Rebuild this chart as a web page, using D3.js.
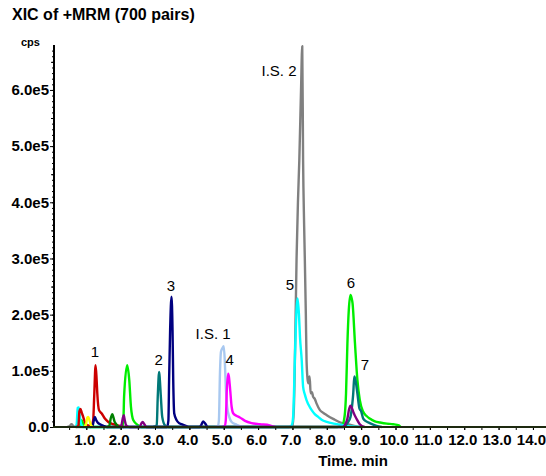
<!DOCTYPE html>
<html lang="en">
<head>
<meta charset="UTF-8">
<title>XIC of +MRM (700 pairs)</title>
<script src="https://cdn.jsdelivr.net/npm/d3@7"></script>
<style>
    body { margin: 0; background: #fff; }
    text { font-family: "Liberation Sans", Arial, Helvetica, sans-serif; }
    .tick text { font-weight: bold; font-size: 15px; fill: #000; }
    .peak_label { font-size: 15px; fill: #000; }
</style>
</head>
<body>
<div id="chart"></div>
<script>
// time in min, intensity in 1e5 cps
var grayTrace = [[0.45,0],[0.52,0.02],[0.57,0.05],[0.62,0.02],[0.7,0],[6.9,0],[7.0,0.02],[7.04,0.3],[7.08,1.5],[7.12,3.0],[7.16,4.0],[7.2,4.75],[7.25,6.0],[7.285,6.78],[7.31,4.75],[7.34,3.6],[7.36,3.0],[7.39,2.0],[7.41,1.2],[7.44,0.85],[7.46,0.78],[7.5,0.9],[7.53,0.6],[7.57,0.62],[7.6,0.54],[7.65,0.5],[7.7,0.42],[7.8,0.3],[7.9,0.25],[8.0,0.21],[8.2,0.14],[8.4,0.08],[8.6,0.05],[8.8,0.02],[9.0,0]];
var limeTrace = [[0.8,0],[0.86,0.12],[0.92,0.04],[0.98,0],[2.0,0],[2.06,0.04],[2.08,0.12],[2.1,0.54],[2.19,1.1],[2.25,0.84],[2.3,0.36],[2.37,0.12],[2.51,0.03],[2.6,0],[8.3,0],[8.45,0.03],[8.52,0.2],[8.56,0.6],[8.6,1.49],[8.64,2.08],[8.69,2.35],[8.72,2.3],[8.75,2.2],[8.82,1.49],[8.89,0.84],[8.96,0.48],[9.06,0.27],[9.15,0.2],[9.25,0.15],[9.4,0.1],[9.55,0.08],[9.75,0.06],[9.93,0.05],[10.1,0.03],[10.15,0]];
var cyanTrace = [[0.68,0],[0.72,0.05],[0.75,0.34],[0.78,0.35],[0.81,0.2],[0.85,0.05],[0.9,0],[6.9,0],[6.98,0.03],[7.02,0.18],[7.07,1.19],[7.1,1.8],[7.15,2.29],[7.19,2.0],[7.22,1.6],[7.27,1.19],[7.31,0.72],[7.36,0.58],[7.41,0.48],[7.5,0.36],[7.56,0.3],[7.65,0.23],[7.75,0.18],[7.85,0.13],[8.0,0.09],[8.2,0.06],[8.4,0.04],[8.7,0.01],[9.0,0]];
var lightBlueTrace = [[4.75,0],[4.83,0.02],[4.86,0.12],[4.89,0.95],[4.92,1.34],[4.96,1.4],[5.0,1.44],[5.03,1.19],[5.06,0.72],[5.1,0.36],[5.16,0.18],[5.23,0.09],[5.38,0.04],[5.55,0]];
var magentaTrace = [[4.95,0],[5.03,0.02],[5.06,0.12],[5.09,0.66],[5.13,0.95],[5.15,0.9],[5.18,0.72],[5.23,0.36],[5.28,0.24],[5.37,0.2],[5.47,0.17],[5.62,0.11],[5.81,0.07],[6.05,0.05],[6.34,0.03],[6.5,0]];
var redTrace = [[0.7,0],[0.77,0.02],[0.8,0.28],[0.83,0.32],[0.87,0.25],[0.91,0.18],[0.95,0.1],[0.99,0.05],[1.05,0.03],[1.15,0.02],[1.2,0.12],[1.23,0.54],[1.27,1.1],[1.3,0.85],[1.32,0.6],[1.37,0.3],[1.45,0.24],[1.54,0.15],[1.64,0.09],[1.78,0.05],[1.97,0.02],[2.1,0]];
var navyTrace = [[1.1,0],[1.18,0.02],[1.22,0.12],[1.25,0.18],[1.29,0.12],[1.33,0.08],[1.4,0.05],[1.5,0.02],[1.6,0],[3.35,0],[3.39,0.12],[3.41,0.84],[3.44,1.73],[3.48,2.32],[3.51,1.73],[3.53,0.84],[3.56,0.24],[3.63,0.12],[3.7,0.07],[3.77,0.05],[3.9,0.02],[4.0,0],[4.3,0],[4.35,0.04],[4.4,0.1],[4.45,0.07],[4.52,0]];
var tealTrace = [[2.95,0],[3.05,0.03],[3.08,0.54],[3.12,0.98],[3.14,0.85],[3.17,0.54],[3.21,0.18],[3.29,0.03],[3.4,0],[8.5,0],[8.6,0.07],[8.69,0.18],[8.74,0.4],[8.77,0.6],[8.8,0.9],[8.84,0.82],[8.89,0.6],[8.95,0.33],[9.0,0.28],[9.06,0.15],[9.15,0.1],[9.25,0.07],[9.45,0.02],[9.6,0]];
var darkGreenTrace = [[1.6,0],[1.67,0.02],[1.71,0.15],[1.76,0.23],[1.79,0.17],[1.82,0.1],[1.87,0.05],[1.95,0]];
var yellowTrace = [[0.93,0],[0.99,0.04],[1.03,0.17],[1.06,0.18],[1.1,0.1],[1.14,0.03],[1.2,0]];
var purpleTrace = [[1.95,0],[2.02,0.03],[2.06,0.15],[2.09,0.21],[2.12,0.12],[2.16,0.03],[2.25,0],[2.55,0],[2.6,0.06],[2.64,0.09],[2.69,0.05],[2.75,0],[8.45,0],[8.53,0.04],[8.6,0.15],[8.65,0.32],[8.69,0.38],[8.73,0.34],[8.77,0.27],[8.87,0.14],[8.96,0.05],[9.1,0]];

var xTicks = [1,2,3,4,5,6,7,8,9,10,11,12,13,14];
var xTickLabels = ["1.0","2.0","3.0","4.0","5.0","6.0","7.0","8.0","9.0","10.0","11.0","12.0","13.0","14.0"];
var yTicks = [0,1,2,3,4,5,6];
var yTickLabels = ["0.0","1.0e5","2.0e5","3.0e5","4.0e5","5.0e5","6.0e5"];

// peak annotations: text, time, intensity
var peakNames = ["1","2","3","I.S. 1","4","5","I.S. 2","6","7"];
var peakTimes = [1.25,3.11,3.46,4.69,5.17,6.93,6.61,8.70,9.11];
var peakHeights = [1.25,1.10,2.42,1.57,1.10,2.44,6.24,2.47,1.01];

var series = [
    { data: grayTrace, color: "#808080" },
    { data: limeTrace, color: "#00ee00" },
    { data: cyanTrace, color: "#00ffff" },
    { data: lightBlueTrace, color: "#a8c8f0" },
    { data: magentaTrace, color: "#ff00ff" },
    { data: redTrace, color: "#cc0000" },
    { data: navyTrace, color: "#000080" },
    { data: tealTrace, color: "#007878" },
    { data: darkGreenTrace, color: "#008000" },
    { data: yellowTrace, color: "#ffff00" },
    { data: purpleTrace, color: "#800080" }
];

var width = 546, height = 476;
var x = d3.scaleLinear().domain([0.06, 14.38]).range([54, 546]);
var y = d3.scaleLinear().domain([0, 6.8]).range([427, 45]);

var svg = d3.select("#chart").append("svg")
    .attr("width", width)
    .attr("height", height);

// title
svg.append("text")
    .attr("x", 12).attr("y", 20)
    .attr("font-size", "16px").attr("font-weight", "bold")
    .text("XIC of +MRM (700 pairs)");

svg.append("text")
    .attr("x", 21).attr("y", 46)
    .attr("font-size", "11px").attr("font-weight", "bold")
    .text("cps");

// traces
var line = d3.line()
    .x(function (d) { return x(d[0]); })
    .y(function (d) { return y(d[1]); })
    .curve(d3.curveMonotoneX);

svg.append("g").selectAll("path")
    .data(series)
    .enter().append("path")
    .attr("d", function (d) { return line(d.data); })
    .attr("fill", "none")
    .attr("stroke", function (d) { return d.color; })
    .attr("stroke-width", 2.4)
    .attr("stroke-linejoin", "round");

// y axis
var yMinor = d3.range(0, 68).map(function (i) { return i / 10; });
svg.append("g")
    .attr("transform", "translate(54,0)")
    .call(d3.axisLeft(y).tickValues(yMinor).tickSize(2).tickFormat(""))
    .call(function (g) { g.select(".domain").remove(); });
svg.append("g")
    .attr("transform", "translate(54,0)")
    .call(d3.axisLeft(y).tickValues([0.5,1.5,2.5,3.5,4.5,5.5,6.5]).tickSize(3).tickFormat(""))
    .call(function (g) { g.select(".domain").remove(); });
svg.append("g")
    .attr("transform", "translate(54,0)")
    .call(d3.axisLeft(y).tickValues(yTicks).tickSize(4).tickPadding(1)
        .tickFormat(function (d, i) { return yTickLabels[i]; }))
    .call(function (g) { g.select(".domain").remove(); });

// x axis
var xMinor = d3.range(1, 29).map(function (i) { return i / 2; });
svg.append("g")
    .attr("transform", "translate(0,427)")
    .call(d3.axisBottom(x).tickValues(xMinor).tickSize(3).tickFormat(""))
    .call(function (g) { g.select(".domain").remove(); });
svg.append("g")
    .attr("transform", "translate(0,427)")
    .call(d3.axisBottom(x).tickValues(xTicks).tickSize(3).tickPadding(4)
        .tickFormat(function (d, i) { return xTickLabels[i]; }))
    .call(function (g) {
        g.select(".domain").remove();
        g.selectAll(".tick text").attr("dx", "-2");
    });

// axis lines
svg.append("line")
    .attr("x1", 54).attr("x2", 54).attr("y1", 45).attr("y2", 428)
    .attr("stroke", "#000").attr("stroke-width", 2);
svg.append("line")
    .attr("x1", 53).attr("x2", 546).attr("y1", 427).attr("y2", 427)
    .attr("stroke", "#1e2a10").attr("stroke-width", 2);

svg.append("text")
    .attr("x", 353).attr("y", 466)
    .attr("text-anchor", "middle")
    .attr("font-size", "15px").attr("font-weight", "bold")
    .text("Time. min");

// peak labels
svg.append("g").selectAll("text")
    .data(peakNames)
    .enter().append("text")
    .attr("class", "peak_label")
    .attr("x", function (d, i) { return x(peakTimes[i]); })
    .attr("y", function (d, i) { return y(peakHeights[i]); })
    .attr("text-anchor", "middle")
    .text(function (d) { return d; });
</script>
</body>
</html>
